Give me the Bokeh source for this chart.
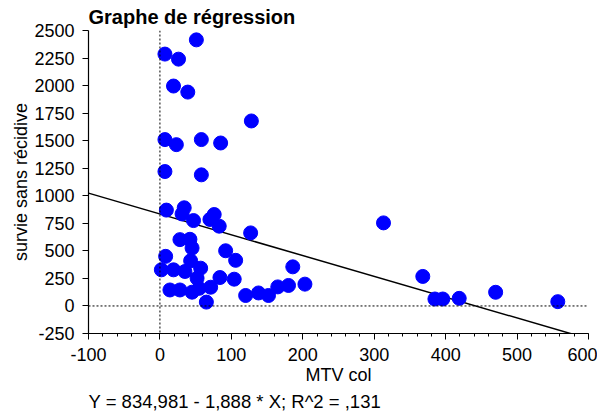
from bokeh.plotting import figure
from bokeh.models import Range1d, SingleIntervalTicker, Span, Title, ColumnDataSource, CustomJSTickFormatter
from bokeh.embed import file_html
from bokeh.resources import INLINE

# ---- data ----
mtv_col = [51, 7, 26, 19, 39, 128, 7, 23, 58, 85, 7, 58,
           9, 34, 31, 47, 76, 70, 83, 127,
           28, 42, 45, 8, 92, 106,
           2, 19, 43, 57, 35, 52, 84, 104,
           14, 28, 45, 55, 71, 65,
           120, 138, 152, 165, 180, 186, 203,
           313, 368, 385, 396, 419, 470, 557]
survie = [2415, 2286, 2240, 1996, 1941, 1679, 1510, 1464, 1510, 1479, 1220, 1190,
          870, 891, 835, 775, 830, 785, 724, 663,
          602, 605, 526, 450, 501, 414,
          328, 328, 410, 343, 313, 252, 258, 243,
          145, 145, 125, 160, 170, 35,
          95, 118, 95, 173, 186, 355, 198,
          754, 268, 63, 63, 69, 124, 39]

intercept = 834.981
slope = -1.888
line_x = [-100, 600]
line_y = [intercept + slope * v for v in line_x]

x_ticks_interval = 100
y_ticks_interval = 250

title_text = "Graphe de régression"
x_label = "MTV col"
y_label = "survie sans récidive"
equation = "Y = 834,981 - 1,888 * X; R^2 = ,131"

FONT = "Liberation Sans"

p = figure(width=597, height=413, output_backend="svg", toolbar_location=None,
           x_range=Range1d(-100, 600), y_range=Range1d(-250, 2500),
           min_border_left=88, min_border_right=9, min_border_top=30, min_border_bottom=78)
p.outline_line_color = None
p.xgrid.visible = False
p.ygrid.visible = False
p.background_fill_color = "white"
p.border_fill_color = "white"

p.title.text = title_text
p.title.align = "left"
p.title.text_font = FONT
p.title.text_font_size = "20px"
p.title.text_font_style = "bold"
p.title.text_color = "black"
p.title.standoff = 5

plain = CustomJSTickFormatter(code="return String(tick);")

# axes
xa = p.xaxis[0]
xa.ticker = SingleIntervalTicker(interval=x_ticks_interval, num_minor_ticks=5)
xa.axis_label = x_label
ya = p.yaxis[0]
ya.ticker = SingleIntervalTicker(interval=y_ticks_interval, num_minor_ticks=0)
ya.axis_label = y_label
for ax in (xa, ya):
    ax.formatter = plain
    ax.axis_line_color = "black"
    ax.axis_line_width = 1.2
    ax.major_tick_line_color = "black"
    ax.major_tick_in = 0
    ax.major_tick_out = 6
    ax.minor_tick_in = 0
    ax.minor_tick_out = 3
    ax.minor_tick_line_color = "black"
    ax.major_label_text_font = FONT
    ax.major_label_text_font_size = "18px"
    ax.major_label_text_color = "black"
    ax.axis_label_text_font = FONT
    ax.axis_label_text_font_size = "18px"
    ax.axis_label_text_font_style = "normal"
    ax.axis_label_text_color = "black"
ya.minor_tick_line_color = None
xa.major_label_standoff = 8
ya.major_label_standoff = 8
xa.axis_label_standoff = 1
ya.axis_label_standoff = 0

# reference lines
p.add_layout(Span(location=0, dimension="height", line_color="black",
                  line_dash="2 2", line_width=1))
p.add_layout(Span(location=0, dimension="width", line_color="black",
                  line_dash="2 2", line_width=1))

# regression line
p.line(line_x, line_y, line_color="black", line_width=1.5)

# points
src = ColumnDataSource(dict(x=mtv_col, y=survie))
p.scatter("x", "y", source=src, marker="circle", size=14,
          fill_color="#0000FF", line_color="#0000FF")

# equation below
eq = Title(text=equation, align="left", text_font=FONT, text_font_size="18.5px",
           text_font_style="normal", text_color="black", standoff=3)
p.add_layout(eq, "below")

open("out.html", "w").write(file_html(p, INLINE))
